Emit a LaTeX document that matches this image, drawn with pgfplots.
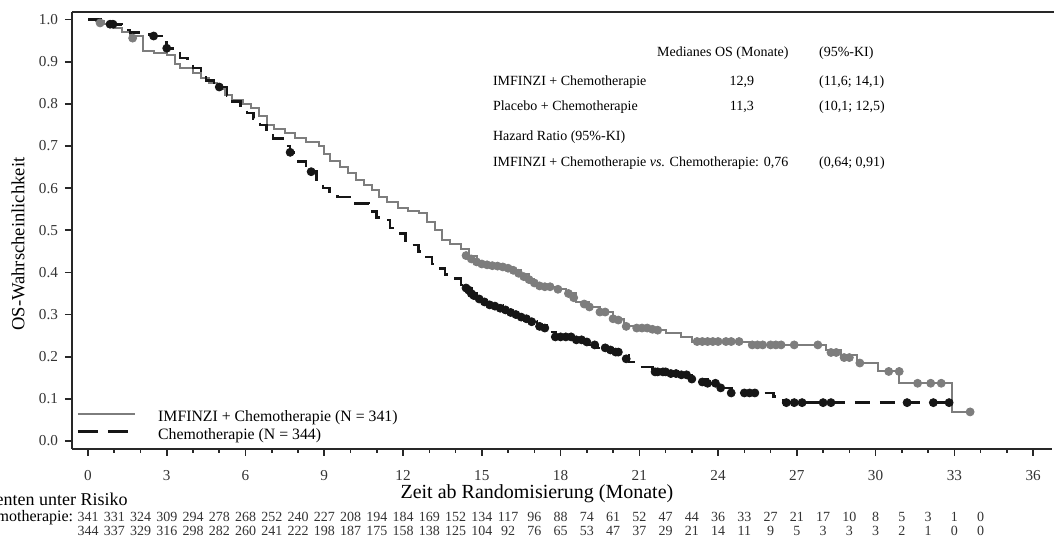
\documentclass[border=0pt]{standalone}
\usepackage{fontspec}
\setmainfont{Liberation Serif}
\usepackage{pgfplots}
\usepackage{pgfplotstable}
\pgfplotsset{compat=1.18}
\definecolor{imf}{RGB}{125,125,125}
\definecolor{chem}{RGB}{22,22,22}
\definecolor{axl}{RGB}{40,40,40}

\pgfplotstableread{
i r1 r2
0 341 344
1 331 337
2 324 329
3 309 316
4 294 298
5 278 282
6 268 260
7 252 241
8 240 222
9 227 198
10 208 187
11 194 175
12 184 158
13 169 138
14 152 125
15 134 104
16 117 92
17 96 76
18 88 65
19 74 53
20 61 47
21 52 37
22 47 29
23 44 21
24 36 14
25 33 11
26 27 9
27 21 5
28 17 3
29 10 3
30 8 3
31 5 2
32 3 1
33 1 0
34 0 0
}\atrisk

\pgfplotstableread{
x y
0 1.0
0.3 0.997
0.6 0.99
1.0 0.98
1.3 0.97
1.6 0.96
2.1 0.925
2.5 0.92
3.0 0.915
3.3 0.895
3.5 0.885
4.0 0.873
4.3 0.862
4.6 0.85
4.9 0.835
5.2 0.822
5.5 0.81
5.9 0.80
6.2 0.79
6.5 0.77
6.8 0.75
7.1 0.74
7.5 0.73
7.9 0.72
8.3 0.71
8.8 0.70
9.0 0.68
9.2 0.665
9.6 0.65
9.9 0.636
10.2 0.62
10.5 0.607
10.8 0.595
11.1 0.58
11.4 0.567
11.8 0.553
12.2 0.545
12.6 0.54
12.9 0.52
13.2 0.50
13.5 0.478
13.8 0.468
14.2 0.455
14.5 0.44
14.8 0.425
15.2 0.418
15.8 0.413
16.2 0.405
16.5 0.396
16.8 0.385
17.0 0.375
17.2 0.366
17.9 0.36
18.2 0.35
18.6 0.33
19.1 0.318
19.5 0.306
20.0 0.29
20.4 0.272
20.8 0.268
21.6 0.263
22.0 0.256
22.6 0.247
23.0 0.236
25.2 0.228
28.1 0.216
28.7 0.204
29.3 0.185
30.1 0.165
30.9 0.137
32.9 0.069
33.6 0.069
}\imfcurve

\pgfplotstableread{
x y
0 1.0
0.5 0.994
0.8 0.989
1.3 0.975
1.6 0.97
2.2 0.965
2.5 0.961
2.8 0.945
3.0 0.932
3.3 0.92
3.5 0.909
3.8 0.895
4.0 0.885
4.3 0.87
4.5 0.856
4.8 0.845
5.0 0.84
5.3 0.82
5.5 0.805
5.8 0.79
6.05 0.778
6.3 0.765
6.55 0.75
6.8 0.735
7.05 0.718
7.4 0.70
7.7 0.685
8.0 0.663
8.3 0.648
8.5 0.639
8.7 0.62
8.95 0.60
9.2 0.585
9.5 0.579
10.1 0.564
10.7 0.544
11.0 0.53
11.2 0.524
11.5 0.505
11.8 0.493
12.1 0.475
12.3 0.465
12.6 0.45
12.9 0.437
13.1 0.42
13.3 0.41
13.6 0.395
13.9 0.386
14.2 0.37
14.4 0.363
14.6 0.35
14.8 0.339
15.1 0.33
15.3 0.323
15.8 0.311
16.2 0.30
16.5 0.294
16.8 0.285
17.1 0.275
17.6 0.259
17.8 0.247
18.5 0.24
18.9 0.228
19.4 0.221
19.9 0.211
20.3 0.204
20.6 0.187
20.9 0.176
21.5 0.164
22.7 0.157
23.0 0.147
23.6 0.137
24.1 0.126
24.5 0.114
26.1 0.105
26.5 0.091
32.8 0.091
}\chemcurve

\pgfplotstableread{
x y
0.46 0.992
1.7 0.956
14.4 0.44
14.6 0.432
14.8 0.425
15.0 0.42
15.2 0.418
15.4 0.416
15.6 0.415
15.8 0.413
16.0 0.41
16.2 0.405
16.4 0.398
16.6 0.39
16.8 0.383
17.0 0.375
17.2 0.368
17.4 0.366
17.6 0.366
17.9 0.36
18.3 0.35
18.5 0.34
18.9 0.325
19.1 0.318
19.5 0.306
19.7 0.306
20.0 0.29
20.2 0.287
20.5 0.272
20.9 0.268
21.1 0.268
21.3 0.268
21.5 0.265
21.7 0.263
23.2 0.236
23.4 0.236
23.6 0.236
23.8 0.236
24.0 0.236
24.3 0.236
24.5 0.236
24.8 0.236
25.3 0.228
25.5 0.228
25.7 0.228
26.0 0.228
26.2 0.228
26.4 0.228
26.9 0.228
27.8 0.228
28.3 0.21
28.5 0.21
28.8 0.198
29.0 0.198
29.4 0.185
30.5 0.165
30.9 0.165
31.6 0.137
32.1 0.137
32.5 0.137
33.6 0.069
}\imfcens

\pgfplotstableread{
x y
0.84 0.989
0.95 0.989
2.5 0.961
3.0 0.932
5.0 0.84
7.7 0.685
8.5 0.639
14.4 0.363
14.5 0.358
14.6 0.35
14.7 0.345
14.9 0.337
15.1 0.33
15.3 0.323
15.5 0.32
15.7 0.315
15.9 0.311
16.1 0.305
16.3 0.30
16.5 0.294
16.7 0.29
16.9 0.283
17.2 0.272
17.4 0.268
17.8 0.247
18.0 0.247
18.2 0.247
18.4 0.247
18.6 0.24
18.8 0.24
19.0 0.235
19.3 0.228
19.7 0.221
19.9 0.216
20.1 0.211
20.2 0.211
20.5 0.195
21.6 0.164
21.7 0.164
21.9 0.164
22.0 0.164
22.2 0.16
22.4 0.16
22.6 0.157
22.8 0.157
23.0 0.147
23.4 0.14
23.6 0.137
23.9 0.137
24.1 0.126
24.5 0.114
25.0 0.114
25.2 0.114
25.4 0.114
26.6 0.091
26.9 0.091
27.2 0.091
28.0 0.091
28.3 0.091
31.2 0.091
32.2 0.091
32.8 0.091
}\chemcens

\newcommand{\annot}{\fontsize{7}{8}\selectfont}
\newcommand{\legf}{\fontsize{7.9}{9}\selectfont}
\newcommand{\riskf}{\fontsize{7}{8}\selectfont}

\begin{document}
\begin{tikzpicture}
\begin{axis}[
  at={(0pt,0pt)}, anchor=south west,
  scale only axis,
  width=490pt, height=218.5pt,
  xmin=-0.61, xmax=36.72,
  ymin=-0.019, ymax=1.018,
  clip=false,
  axis x line*=bottom, axis y line*=left,
  axis line style={-, line width=1pt, color=axl},
  xtick={0,3,...,36},
  minor xtick={0,1,...,36},
  ytick={0,0.1,...,1.0},
  tick align=outside,
  major tick length=3.5pt,
  minor tick length=2pt,
  tick style={line width=0.8pt, color=axl},
  ticklabel style={font=\fontsize{7.6}{9}\selectfont, color=black!80},
  xticklabel style={yshift=-3.5pt},
  /pgf/number format/assume math mode=true,
  yticklabel style={/pgf/number format/.cd, fixed, fixed zerofill, precision=1},
  legend cell align=left,
  legend image code/.code={\draw[#1] (0pt,2.2pt) -- (28.5pt,2.2pt);},
  legend style={draw=none, fill=none, inner sep=0pt, at={(axis cs:-0.45,0.0333)}, anchor=west,
    font=\legf, row sep=2pt,
    nodes={inner sep=0pt, text height=5.5pt, text depth=1.5pt},
    /tikz/every odd column/.append style={column sep=11pt}},
]
\addlegendimage{imf, line width=1pt}
\addlegendentry{IMFINZI + Chemotherapie (N = 341)}
\addlegendimage{chem, line width=1.3pt, dash pattern=on 10pt off 5pt}
\addlegendentry{Chemotherapie (N = 344)}

\draw[line width=0.8pt, color=axl] (rel axis cs:0,1) -- (rel axis cs:1.002,1);

\addplot[const plot, imf, line width=1pt, forget plot] table[x=x, y=y] {\imfcurve};
\addplot[const plot, chem, line width=1.3pt, dash pattern=on 7.5pt off 5pt, forget plot] table[x=x, y=y] {\chemcurve};
\addplot[only marks, mark=*, mark size=2pt, imf, forget plot] table[x=x, y=y] {\imfcens};
\addplot[only marks, mark=*, mark size=2pt, chem, forget plot] table[x=x, y=y] {\chemcens};

\addplot[draw=none, mark=none, forget plot, nodes near coords, point meta=explicit symbolic,
  every node near coord/.style={anchor=center, inner sep=0pt, font=\riskf, color=black!80}]
  table[x=i, y expr=-0.18, meta=r1] {\atrisk};
\addplot[draw=none, mark=none, forget plot, nodes near coords, point meta=explicit symbolic,
  every node near coord/.style={anchor=center, inner sep=0pt, font=\riskf, color=black!80}]
  table[x=i, y expr=-0.2135, meta=r2] {\atrisk};

\node[anchor=center, font=\fontsize{10}{12}\selectfont] at (axis cs:17.1,-0.1257) {Zeit ab Randomisierung (Monate)};
\node[anchor=center, rotate=90, font=\fontsize{9.3}{11}\selectfont] at (axis cs:-2.667,0.467) {OS-Wahrscheinlichkeit};
\node[anchor=east, inner sep=0pt, font=\fontsize{9}{11}\selectfont] at (axis cs:1.524,-0.139) {Patienten unter Risiko};
\node[anchor=east, inner sep=0pt, font=\fontsize{8}{10}\selectfont] at (axis cs:-0.55,-0.181) {IMFINZI + Chemotherapie:};

\node[anchor=west, font=\annot] at (axis cs:21.41,0.9205) {Medianes OS (Monate)};
\node[anchor=west, font=\annot] at (axis cs:27.58,0.9205) {(95\%-KI)};
\node[anchor=west, font=\annot] at (axis cs:15.16,0.8517) {IMFINZI + Chemotherapie};
\node[anchor=center, font=\annot] at (axis cs:24.91,0.8517) {12,9};
\node[anchor=west, font=\annot] at (axis cs:27.58,0.8517) {(11,6; 14,1)};
\node[anchor=west, font=\annot] at (axis cs:15.16,0.7924) {Placebo + Chemotherapie};
\node[anchor=center, font=\annot] at (axis cs:24.91,0.7924) {11,3};
\node[anchor=west, font=\annot] at (axis cs:27.58,0.7924) {(10,1; 12,5)};
\node[anchor=west, font=\annot] at (axis cs:15.16,0.7212) {Hazard Ratio (95\%-KI)};
\node[anchor=west, font=\annot] at (axis cs:15.16,0.6595) {IMFINZI + Chemotherapie \textit{vs.} Chemotherapie: 0,76};
\node[anchor=west, font=\annot] at (axis cs:27.58,0.6595) {(0,64; 0,91)};
\end{axis}
\pgfresetboundingbox
\path (-36pt,-47.5pt) rectangle (491pt,224.5pt);
\end{tikzpicture}
\end{document}
